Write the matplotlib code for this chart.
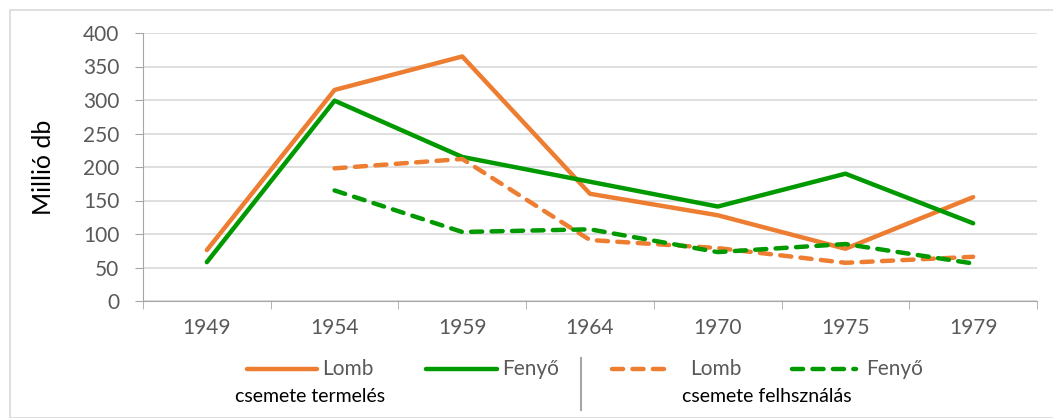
import matplotlib.pyplot as plt
from matplotlib.lines import Line2D
from matplotlib.patches import Rectangle

plt.rcParams['font.family'] = ['Lato', 'DejaVu Sans']

years = ['1949', '1954', '1959', '1964', '1970', '1975', '1979']
lomb_termeles = [76, 315, 365, 160, 128, 78, 155]
fenyo_termeles = [58, 299, 215, 178, 141, 190, 116]
lomb_felhasznalas = [None, 198, 212, 91, 79, 57, 66]
fenyo_felhasznalas = [None, 165, 103, 107, 73, 85, 56]

orange = '#ED7D31'
green = '#009900'
gray = '#595959'

fig = plt.figure(figsize=(10.53, 4.18), dpi=100)
fig.patches.append(Rectangle((10/1053, 0), 1, 1 - 10/418, transform=fig.transFigure,
                             fill=False, edgecolor='#d9d9d9', linewidth=1.2))
ax = fig.add_axes([143/1053, 1 - 301/418, (1037 - 143)/1053, (301 - 33)/418])

x = list(range(len(years)))

def clean(vals):
    xs = [i for i, v in zip(x, vals) if v is not None]
    ys = [v for v in vals if v is not None]
    return xs, ys

dash = (0, (2.5, 2.1))
ax.plot(*clean(lomb_termeles), color=orange, lw=3.2, solid_capstyle='round', zorder=3)
ax.plot(*clean(fenyo_termeles), color=green, lw=3.2, solid_capstyle='round', zorder=3)
ax.plot(*clean(lomb_felhasznalas), color=orange, lw=3.2, linestyle=dash,
        dash_capstyle='round', zorder=3)
ax.plot(*clean(fenyo_felhasznalas), color=green, lw=3.2, linestyle=dash,
        dash_capstyle='round', zorder=3)

ax.set_xlim(-0.5, len(years) - 0.5)
ax.set_ylim(0, 400)
ax.set_yticks(range(0, 401, 50))
ax.set_xticks(x)
ax.set_xticklabels(years)
ax.set_xticks([i - 0.5 for i in range(len(years) + 1)], minor=True)
ax.tick_params(axis='x', which='major', length=0, pad=12, labelsize=15, labelcolor=gray)
ax.tick_params(axis='x', which='minor', length=6, color='#a6a6a6', direction='out')
ax.tick_params(axis='y', length=6, color='#a6a6a6', labelsize=15, labelcolor=gray, pad=11)
ax.grid(axis='y', color='#d9d9d9', lw=1.2, zorder=0)
for s in ['top', 'right']:
    ax.spines[s].set_visible(False)
ax.spines['left'].set_color('#a6a6a6')
ax.spines['bottom'].set_color('#a6a6a6')
ax.set_ylabel('Millió db', fontsize=18, labelpad=20)

# legend drawn in figure pixels
def fx(px):
    return px / 1053

def fy(py):
    return 1 - py / 418

ly = 369
items = [
    (247, 317, 322, 'Lomb', orange, '-'),
    (426, 497, 502, 'Fenyő', green, '-'),
    (612, 673, 690, 'Lomb', orange, dash),
    (792, 856, 866, 'Fenyő', green, dash),
]
for x0, x1, tx, lab, col, ls in items:
    fig.add_artist(Line2D([fx(x0), fx(x1)], [fy(ly), fy(ly)], color=col, lw=3.2,
                          linestyle=ls, solid_capstyle='round', dash_capstyle='round'))
    fig.text(fx(tx), fy(ly), lab, fontsize=15, color=gray, va='center', ha='left')
fig.add_artist(Line2D([fx(581), fx(581)], [fy(358), fy(410)], color='#a6a6a6', lw=1.5))
fig.text(fx(310), fy(397), 'csemete termelés', fontsize=14, va='center', ha='center')
fig.text(fx(767), fy(397), 'csemete felhsználás', fontsize=14, va='center', ha='center')

fig.savefig('out.png', dpi=100)
